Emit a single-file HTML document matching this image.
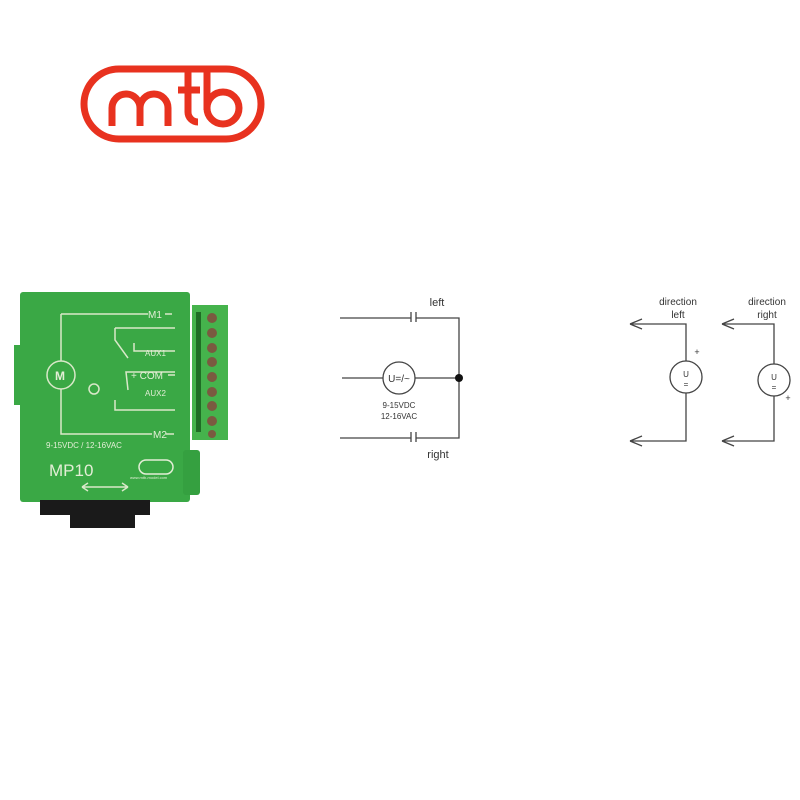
<!DOCTYPE html>
<html><head><meta charset="utf-8"><style>
html,body{margin:0;padding:0;background:#fff;}
svg{display:block;font-family:"Liberation Sans",sans-serif;}
</style></head><body>
<svg width="800" height="800" viewBox="0 0 800 800" xmlns="http://www.w3.org/2000/svg">
<!-- logo -->
<g fill="none" stroke="#e8321f" stroke-width="7" stroke-linecap="butt">
<rect x="84" y="69" width="177" height="70" rx="35"/>
<path d="M112,126 V108 A14,14 0 0 1 140,108 V126 M140,108 A14,14 0 0 1 168,108 V126"/>
<path d="M188,72 V112 A10,10 0 0 0 198,122 M178,90 H200"/>
<path d="M207,72 V110"/>
<circle cx="223" cy="108" r="16"/>
</g>
<!-- board -->
<rect x="20" y="292" width="170" height="210" rx="3" fill="#3aa845"/>
<rect x="14" y="345" width="10" height="60" fill="#3aa845"/>
<rect x="183" y="450" width="17" height="45" rx="3" fill="#35a040"/>
<rect x="192" y="305" width="36" height="135" fill="#45b34c"/>
<g fill="#7a5a40">
<circle cx="212" cy="318" r="5"/><circle cx="212" cy="333" r="5"/><circle cx="212" cy="348" r="5"/><circle cx="212" cy="362" r="5"/><circle cx="212" cy="377" r="5"/><circle cx="212" cy="392" r="5"/><circle cx="212" cy="406" r="5"/><circle cx="212" cy="421" r="5"/><circle cx="212" cy="434" r="4"/>
</g>
<g fill="#1f6d25"><rect x="196" y="312" width="5" height="120"/></g>
<path d="M40,500 H150 V515 H135 V528 H70 V515 H40 Z" fill="#1a1a1a"/>
<g stroke="#d9e8c9" stroke-width="1.5" fill="none">
<path d="M61,314 V434 H152 M61,314 H148"/>
<circle cx="61" cy="375" r="14" fill="#3aa845"/>
<path d="M115,328 H175 M115,328 V340 L128,358 M134,343 V351 H175 M115,400 V410 H175 M128,390 L126,372 H175"/>
<circle cx="94" cy="389" r="5"/>
<path d="M165,314 H172 M166,434 H174 M168,375 H175"/>
<path d="M82,487 H128 M82,487 l6,-4 M82,487 l6,4 M128,487 l-6,-4 M128,487 l-6,4"/>
</g>
<g fill="#e3eed6" font-weight="bold">
<text x="55" y="380" font-size="12">M</text>
<text x="148" y="318" font-size="10" font-weight="normal">M1</text>
<text x="145" y="356" font-size="8" font-weight="normal">AUX1</text>
<text x="131" y="379" font-size="10" font-weight="normal">+ COM</text>
<text x="145" y="396" font-size="8" font-weight="normal">AUX2</text>
<text x="153" y="438" font-size="10" font-weight="normal">M2</text>
<text x="46" y="448" font-size="8" font-weight="normal">9-15VDC / 12-16VAC</text>
<text x="49" y="476" font-size="17" font-weight="normal">MP10</text>
<text x="130" y="479" font-size="4" font-weight="normal">www.mtb-model.com</text>
</g>
<rect x="139" y="460" width="34" height="14" rx="7" fill="none" stroke="#e3eed6" stroke-width="1.5"/>
<!-- middle schematic -->
<g stroke="#444" stroke-width="1.3" fill="none">
<path d="M340,318 H411 M411,312 V322 M416,312 V322 M416,318 H459 V438 H416 M416,432 V442 M411,432 V442 M411,438 H340"/>
<path d="M342,378 H383 M415,378 H459"/>
<circle cx="399" cy="378" r="16"/>
</g>
<circle cx="459" cy="378" r="4" fill="#111"/>
<g fill="#333" text-anchor="middle">
<text x="437" y="306" font-size="11">left</text>
<text x="438" y="458" font-size="11">right</text>
<text x="399" y="382" font-size="10">U=/~</text>
<text x="399" y="408" font-size="8">9-15VDC</text>
<text x="399" y="419" font-size="8">12-16VAC</text>
</g>
<!-- right schematics -->
<g stroke="#444" stroke-width="1.3" fill="none">
<path d="M630,324 H686 V361 M686,393 V441 H630"/>
<path d="M630,324 l12,-5 M630,324 l12,5 M630,441 l12,-5 M630,441 l12,5"/>
<circle cx="686" cy="377" r="16"/>
<path d="M722,324 H774 V364 M774,396 V441 H722"/>
<path d="M722,324 l12,-5 M722,324 l12,5 M722,441 l12,-5 M722,441 l12,5"/>
<circle cx="774" cy="380" r="16"/>
</g>
<g fill="#333" text-anchor="middle">
<text x="678" y="305" font-size="10">direction</text>
<text x="678" y="318" font-size="10">left</text>
<text x="767" y="305" font-size="10">direction</text>
<text x="767" y="318" font-size="10">right</text>
<text x="697" y="355" font-size="9">+</text>
<text x="788" y="401" font-size="9">+</text>
<text x="686" y="377" font-size="8">U</text>
<text x="686" y="387" font-size="8">=</text>
<text x="774" y="380" font-size="8">U</text>
<text x="774" y="390" font-size="8">=</text>
</g>
</svg>
</body></html>
